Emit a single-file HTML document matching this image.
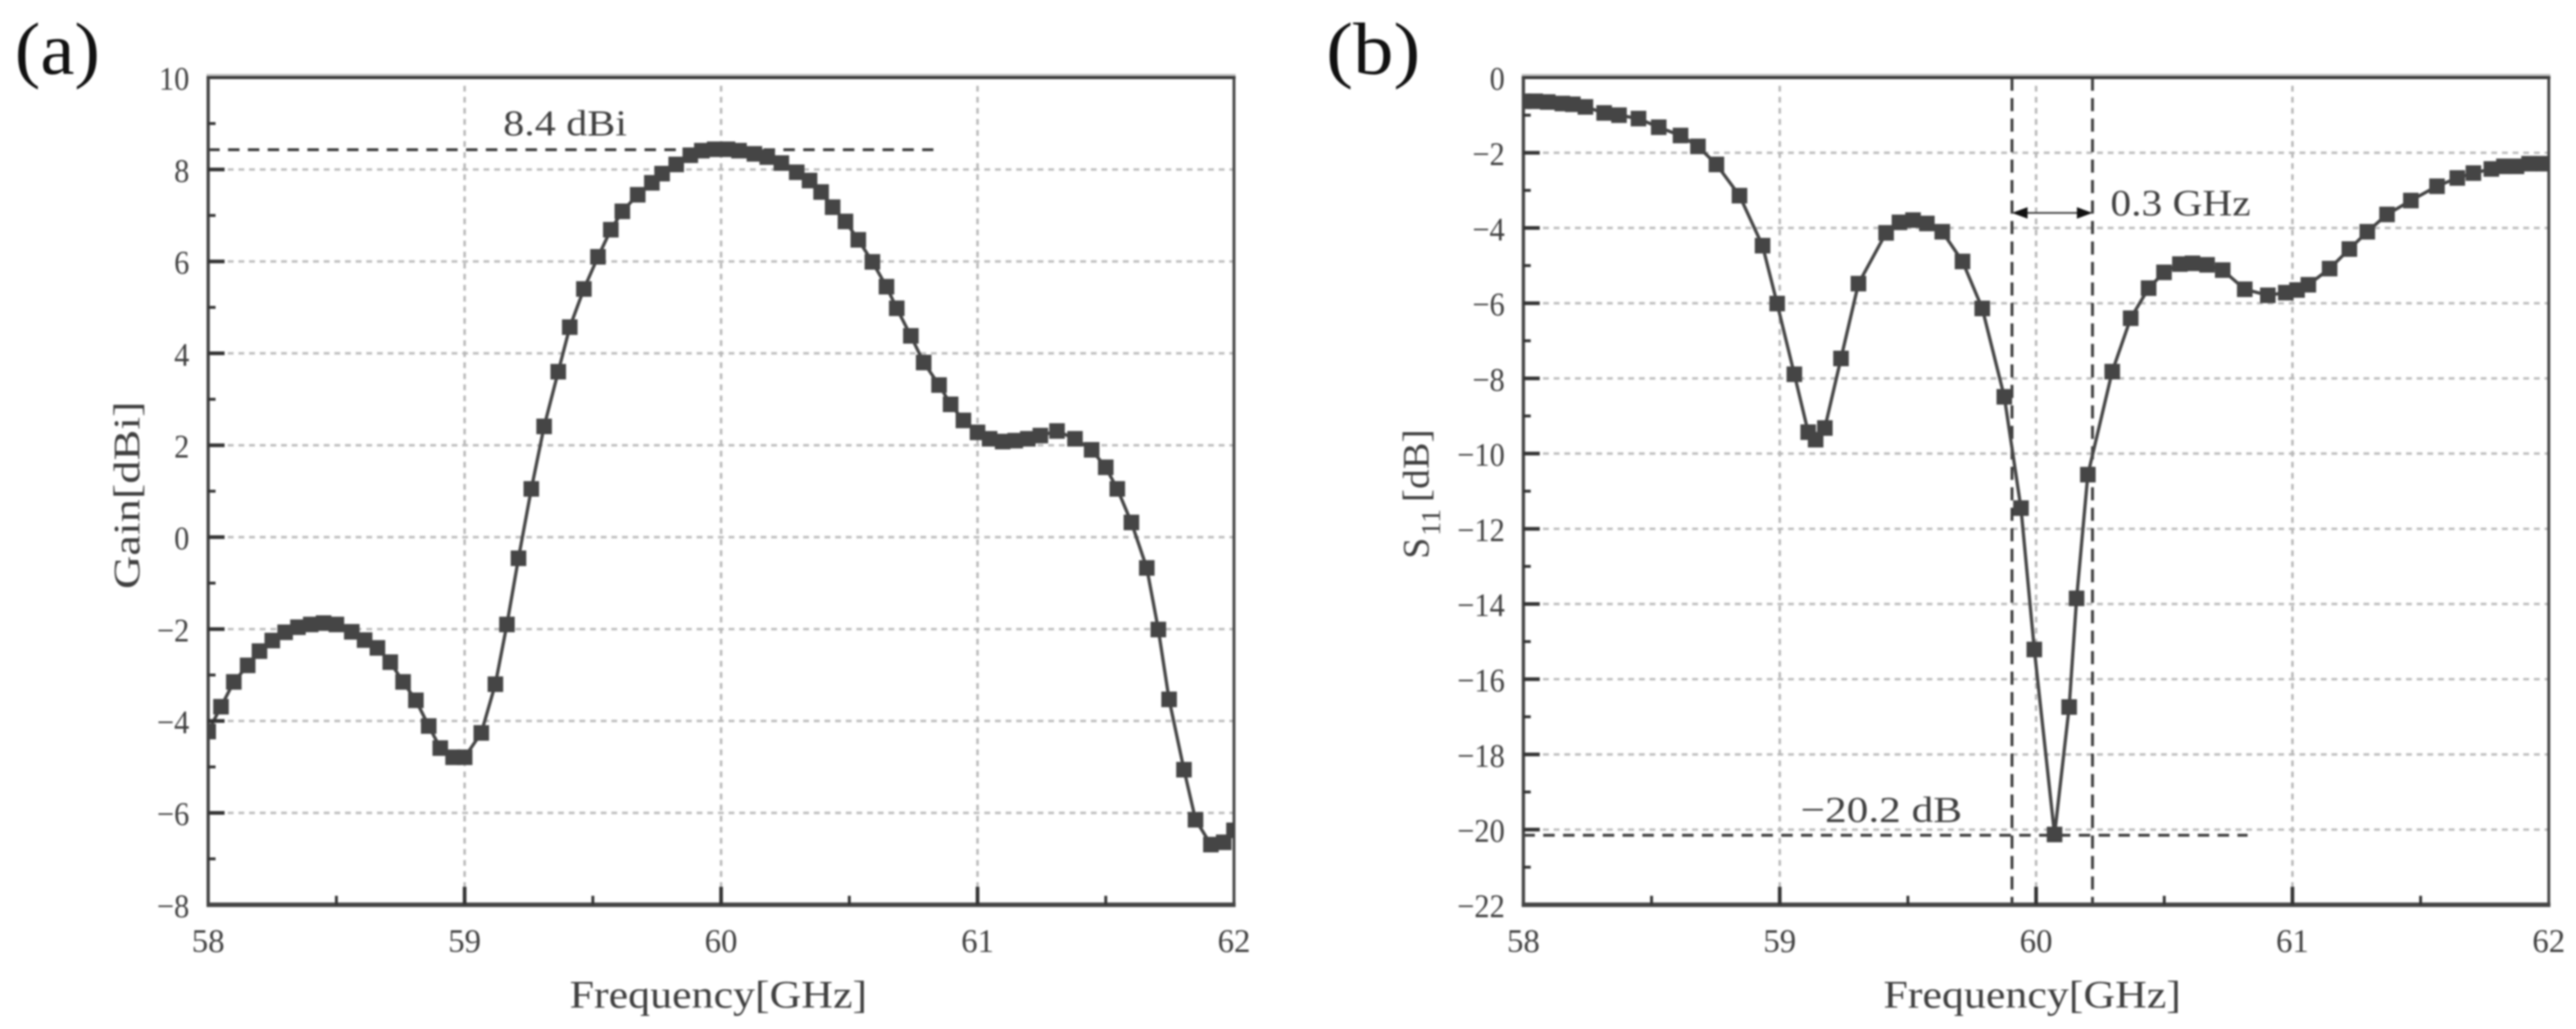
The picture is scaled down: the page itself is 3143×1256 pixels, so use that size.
<!DOCTYPE html>
<html lang="en">
<head>
<meta charset="utf-8">
<title>Gain and S11 versus frequency</title>
<style>
html,body{margin:0;padding:0;background:#fff;width:3143px;height:1256px;overflow:hidden}
svg{display:block;filter:blur(1.1px)}
text{font-family:"Liberation Serif",serif;fill:#3f3f3f}
</style>
</head>
<body>
<svg id="figure" xmlns="http://www.w3.org/2000/svg" width="3143" height="1256" viewBox="0 0 3143 1256">
  <rect x="0" y="0" width="3143" height="1256" fill="#ffffff"/>
  <defs>
    <clipPath id="clip-a"><rect x="254" y="94.7" width="1251.6" height="1009.7"/></clipPath>
    <clipPath id="clip-b"><rect x="1858.7" y="94.7" width="1251.1" height="1009.7"/></clipPath>
  </defs>

  <g id="panel-a"></g>
  <g id="panel-b"></g>

  <text x="18" y="90" font-size="90" textLength="104" lengthAdjust="spacingAndGlyphs" style="fill:#111">(a)</text>
  <text x="1618" y="90" font-size="90" textLength="115" lengthAdjust="spacingAndGlyphs" style="fill:#111">(b)</text>

  <text x="695" y="1230" font-size="48" textLength="363" lengthAdjust="spacingAndGlyphs">Frequency[GHz]</text>
  <text x="2298" y="1230" font-size="48" textLength="363" lengthAdjust="spacingAndGlyphs">Frequency[GHz]</text>

  <text transform="translate(170,719) rotate(-90)" x="0" y="0" font-size="46" textLength="229" lengthAdjust="spacingAndGlyphs">Gain[dBi]</text>

  <text transform="translate(1743,682) rotate(-90)" x="0" y="0" font-size="46">S</text>
  <text transform="translate(1757,654) rotate(-90)" x="0" y="0" font-size="34">11</text>
  <text transform="translate(1743,613) rotate(-90)" x="0" y="0" font-size="46" textLength="89" lengthAdjust="spacingAndGlyphs">[dB]</text>

  <text x="614" y="165" font-size="44" textLength="151" lengthAdjust="spacingAndGlyphs">8.4 dBi</text>
  <text x="2197" y="1003" font-size="44" textLength="197" lengthAdjust="spacingAndGlyphs">−20.2 dB</text>
  <text x="2575" y="263" font-size="46" textLength="171" lengthAdjust="spacingAndGlyphs">0.3 GHz</text>
</svg>

<script>
// ---- chart data ----
const xTickValues = [58, 58.5, 59, 59.5, 60, 60.5, 61, 61.5, 62];
const xTickLabels = ["58", "", "59", "", "60", "", "61", "", "62"];
const gainTickValues = [10, 9, 8, 7, 6, 5, 4, 3, 2, 1, 0, -1, -2, -3, -4, -5, -6, -7, -8];
const gainTickLabels = ["10", "", "8", "", "6", "", "4", "", "2", "", "0", "", "−2", "", "−4", "", "−6", "", "−8"];
const s11TickValues = [0, -1, -2, -3, -4, -5, -6, -7, -8, -9, -10, -11, -12, -13, -14, -15, -16, -17, -18, -19, -20, -21, -22];
const s11TickLabels = ["0", "", "−2", "", "−4", "", "−6", "", "−8", "", "−10", "", "−12", "", "−14", "", "−16", "", "−18", "", "−20", "", "−22"];

const gainFrequency = [58.00, 58.05, 58.10, 58.154, 58.20, 58.25, 58.30, 58.35, 58.40, 58.45, 58.50, 58.56, 58.61, 58.66, 58.71, 58.76, 58.81, 58.86, 58.905, 58.955, 59.00, 59.065, 59.12, 59.165, 59.21, 59.26, 59.31, 59.365, 59.41, 59.465, 59.52, 59.57, 59.615, 59.675, 59.73, 59.77, 59.825, 59.88, 59.925, 59.975, 60.025, 60.07, 60.13, 60.18, 60.235, 60.295, 60.345, 60.39, 60.435, 60.485, 60.535, 60.59, 60.645, 60.685, 60.74, 60.79, 60.85, 60.895, 60.945, 61.00, 61.047, 61.098, 61.147, 61.196, 61.245, 61.31, 61.38, 61.445, 61.50, 61.545, 61.60, 61.66, 61.705, 61.747, 61.805, 61.85, 61.91, 61.96, 62.00];
const gainValues = [-4.23, -3.69, -3.15, -2.79, -2.48, -2.25, -2.07, -1.96, -1.90, -1.87, -1.90, -2.06, -2.24, -2.41, -2.72, -3.15, -3.55, -4.11, -4.59, -4.79, -4.79, -4.26, -3.20, -1.90, -0.46, 1.05, 2.41, 3.60, 4.57, 5.40, 6.10, 6.69, 7.09, 7.45, 7.71, 7.91, 8.11, 8.31, 8.41, 8.44, 8.44, 8.41, 8.34, 8.27, 8.14, 7.94, 7.76, 7.51, 7.18, 6.87, 6.47, 5.99, 5.45, 4.98, 4.38, 3.80, 3.31, 2.89, 2.54, 2.28, 2.14, 2.08, 2.10, 2.14, 2.21, 2.31, 2.14, 1.90, 1.52, 1.05, 0.32, -0.67, -2.01, -3.53, -5.06, -6.15, -6.69, -6.64, -6.38];

const s11Frequency = [58.00, 58.046, 58.095, 58.152, 58.193, 58.242, 58.315, 58.373, 58.449, 58.528, 58.613, 58.681, 58.753, 58.843, 58.933, 58.99, 59.057, 59.111, 59.14, 59.176, 59.239, 59.307, 59.415, 59.467, 59.52, 59.574, 59.634, 59.713, 59.79, 59.876, 59.941, 59.993, 60.072, 60.129, 60.158, 60.202, 60.297, 60.369, 60.439, 60.499, 60.561, 60.61, 60.667, 60.728, 60.814, 60.904, 60.974, 61.018, 61.062, 61.145, 61.222, 61.292, 61.369, 61.462, 61.564, 61.643, 61.706, 61.776, 61.825, 61.874, 61.923, 61.98];
const s11Values = [-0.63, -0.63, -0.65, -0.69, -0.71, -0.78, -0.94, -1.00, -1.09, -1.32, -1.54, -1.83, -2.31, -3.14, -4.47, -6.01, -7.89, -9.43, -9.63, -9.32, -7.47, -5.48, -4.13, -3.85, -3.79, -3.88, -4.10, -4.89, -6.14, -8.49, -11.45, -15.21, -20.13, -16.74, -13.85, -10.56, -7.82, -6.40, -5.60, -5.18, -4.96, -4.94, -4.98, -5.12, -5.63, -5.79, -5.72, -5.65, -5.51, -5.08, -4.56, -4.10, -3.64, -3.27, -2.89, -2.67, -2.54, -2.43, -2.36, -2.36, -2.29, -2.29];

const gainPeakLevel = [8.43];
const gainPeakExtentFreq = [58, 60.828];
const s11MinLevel = [-20.15];
const s11MinExtentFreq = [58, 60.825];
const bandEdgesFreq = [59.906, 60.22];
const bandArrowLevel = [-3.6];

// ---- drawing ----
const NS = 'http://www.w3.org/2000/svg';
function mk(tag, attrs, parent) {
  const node = document.createElementNS(NS, tag);
  for (const k in attrs) node.setAttribute(k, attrs[k]);
  parent.appendChild(node);
  return node;
}
function linearScale(d0, d1, r0, r1) {
  return function (v) { return r0 + (v - d0) * (r1 - r0) / (d1 - d0); };
}

function drawPanel(cfg) {
  const root = document.getElementById(cfg.id);
  const L = cfg.left, R = cfg.right, T = cfg.top, B = cfg.bottom;
  const x = linearScale(58, 62, L, R);
  const y = linearScale(cfg.yMax, cfg.yMin, T, B);

  // grid
  cfg.yTicks.forEach(function (v, i) {
    if (!cfg.yLabels[i] || v === cfg.yMax || v === cfg.yMin) return;
    const g = mk('line', {x1: L + 24, x2: R, y1: y(v), y2: y(v), stroke: '#bdbdbd', 'stroke-width': 3, 'stroke-dasharray': '7 6'}, root);
    
    
  });
  xTickValues.forEach(function (v, i) {
    if (!xTickLabels[i] || v === 58 || v === 62) return;
    const g = mk('line', {x1: x(v), x2: x(v), y1: T + 10, y2: B - 22, stroke: '#b8b8b8', 'stroke-width': 3, 'stroke-dasharray': '7 6.5'}, root);
    
    
  });

  // reference lines
  const ref = mk('line', {x1: x(cfg.refFreq[0]), x2: x(cfg.refFreq[1]), y1: y(cfg.refLevel[0]), y2: y(cfg.refLevel[0]), stroke: '#3c3c3c', 'stroke-width': 3.5, 'stroke-dasharray': '14 10.2'}, root);
  
  

  if (cfg.band) {
    cfg.band.forEach(function (f) {
      const b = mk('line', {x1: x(f), x2: x(f), y1: T, y2: B, stroke: '#3c3c3c', 'stroke-width': 3.5, 'stroke-dasharray': '16 9'}, root);
      
      
    });
    const ay = y(bandArrowLevel[0]);
    const x0 = x(cfg.band[0]), x1 = x(cfg.band[1]);
    const shaft = mk('line', {x1: x0 + 10, x2: x1 - 10, y1: ay, y2: ay, stroke: '#333', 'stroke-width': 2}, root);
    
    
    const headL = mk('polygon', {points: x0 + ' ' + ay + ' ' + (x0 + 19) + ' ' + (ay - 7) + ' ' + (x0 + 19) + ' ' + (ay + 7), fill: '#111'}, root);
    
    
    const headR = mk('polygon', {points: x1 + ' ' + ay + ' ' + (x1 - 19) + ' ' + (ay - 7) + ' ' + (x1 - 19) + ' ' + (ay + 7), fill: '#111'}, root);
    
    
  }

  // series
  const series = mk('g', {'clip-path': 'url(#' + cfg.clip + ')'}, root);
  
  
  const pts = cfg.freq.map(function (f, i) { return x(f).toFixed(1) + ',' + y(cfg.values[i]).toFixed(1); }).join(' ');
  const line = mk('polyline', {points: pts, fill: 'none', stroke: '#454545', 'stroke-width': 4, 'stroke-linejoin': 'round'}, series);
  
  
  cfg.freq.forEach(function (f, i) {
    const m = mk('rect', {x: x(f) - 9.5, y: y(cfg.values[i]) - 9.5, width: 19, height: 19, fill: '#454545'}, series);
    
    
  });

  // frame
  const halo = mk('line', {x1: L - 2, x2: R + 2, y1: T - 3, y2: T - 3, stroke: '#bcbcbc', 'stroke-width': 3}, root);
  
  
  const top = mk('line', {x1: L - 2, x2: R + 2, y1: T, y2: T, stroke: '#333', 'stroke-width': 3.5}, root);
  
  
  const right = mk('line', {x1: R, x2: R, y1: T, y2: B, stroke: '#444', 'stroke-width': 3.5}, root);
  
  
  const left = mk('line', {x1: L, x2: L, y1: T, y2: B + 2, stroke: '#444', 'stroke-width': 4}, root);
  
  
  const bottom = mk('line', {x1: L - 2, x2: R + 2, y1: B, y2: B, stroke: '#444', 'stroke-width': 5.5}, root);
  
  

  // y ticks + labels
  cfg.yTicks.forEach(function (v, i) {
    const major = !!cfg.yLabels[i];
    if (v !== cfg.yMax && v !== cfg.yMin) {
      const t = mk('line', {x1: L, x2: L + (major ? 20 : 9), y1: y(v), y2: y(v), stroke: '#333', 'stroke-width': major ? 4.5 : 3.5}, root);
      
      
    }
    if (major) {
      const s = cfg.yLabels[i];
      const digits = s.replace('−', '').length;
      const w = digits * 18.5 + (s.charAt(0) === '−' ? 21 : 0);
      const lab = mk('text', {x: cfg.yLabelX, y: y(v) + 15, 'text-anchor': 'end', 'font-size': 40, textLength: w, lengthAdjust: 'spacingAndGlyphs'}, root);
      lab.textContent = s;
      
      
    }
  });

  // x ticks + labels
  xTickValues.forEach(function (v, i) {
    const major = !!xTickLabels[i];
    if (v !== 58 && v !== 62) {
      const t = mk('line', {x1: x(v), x2: x(v), y1: B, y2: B - (major ? 22 : 11), stroke: '#333', 'stroke-width': major ? 4.5 : 3.5}, root);
      
      
    }
    if (major) {
      const lab = mk('text', {x: x(v), y: 1162, 'text-anchor': 'middle', 'font-size': 40}, root);
      lab.textContent = xTickLabels[i];
      
      
    }
  });
}

drawPanel({
  id: 'panel-a', clip: 'clip-a', seriesName: 'gain-series', refName: 'peak-gain-line',
  left: 254, right: 1505.6, top: 94.7, bottom: 1104.4, yMax: 10, yMin: -8, yLabelX: 231,
  yTicks: gainTickValues, yLabels: gainTickLabels,
  freq: gainFrequency, values: gainValues,
  refFreq: gainPeakExtentFreq, refLevel: gainPeakLevel
});
drawPanel({
  id: 'panel-b', clip: 'clip-b', seriesName: 's11-series', refName: 'min-s11-line',
  left: 1858.7, right: 3109.8, top: 94.7, bottom: 1104.4, yMax: 0, yMin: -22, yLabelX: 1836,
  yTicks: s11TickValues, yLabels: s11TickLabels,
  freq: s11Frequency, values: s11Values,
  refFreq: s11MinExtentFreq, refLevel: s11MinLevel, band: bandEdgesFreq
});
</script>
</body>
</html>
